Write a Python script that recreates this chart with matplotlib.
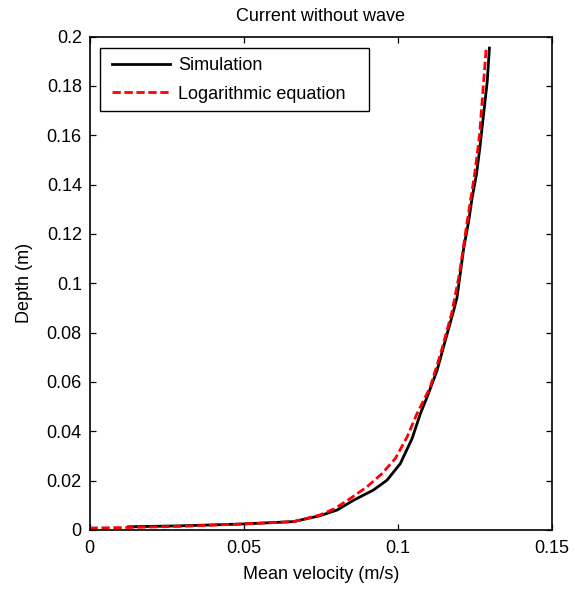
import matplotlib
matplotlib.use("Agg")
import matplotlib.pyplot as plt
from matplotlib.patches import Rectangle

# Data
sim_velocity = [0.0126, 0.030, 0.0489, 0.0662, 0.0748, 0.0803, 0.0857, 0.0921, 0.0965,
                0.1008, 0.1046, 0.1073, 0.1095, 0.1127, 0.1154, 0.1181, 0.1192, 0.1214,
                0.1230, 0.1241, 0.1255, 0.1266, 0.1284, 0.1290, 0.1297]
sim_depth = [0.0013, 0.0017, 0.0024, 0.0034, 0.0058, 0.0081, 0.0121, 0.0162, 0.0202,
             0.0269, 0.0370, 0.0471, 0.0539, 0.0646, 0.0768, 0.0889, 0.0943, 0.1145,
             0.1253, 0.1347, 0.1441, 0.1549, 0.1751, 0.1818, 0.1953]

log_velocity = [0.0, 0.0126, 0.030, 0.0489, 0.0662, 0.0748, 0.0797, 0.0846, 0.0900,
                0.0949, 0.0992, 0.1030, 0.1062, 0.1105, 0.1140, 0.1175, 0.1200, 0.1225,
                0.1250, 0.1265, 0.1287]
log_depth = [0.0008, 0.0010, 0.0015, 0.0024, 0.0034, 0.0061, 0.0088, 0.0128, 0.0175,
             0.0229, 0.0290, 0.0377, 0.0471, 0.0579, 0.0720, 0.0880, 0.1040, 0.1250,
             0.1450, 0.1600, 0.1960]

x_ticks = [0, 0.05, 0.1, 0.15]
x_tick_labels = ["0", "0.05", "0.1", "0.15"]
y_ticks = [0, 0.02, 0.04, 0.06, 0.08, 0.1, 0.12, 0.14, 0.16, 0.18, 0.2]
y_tick_labels = ["0", "0.02", "0.04", "0.06", "0.08", "0.1", "0.12", "0.14", "0.16", "0.18", "0.2"]

plt.rcParams['font.family'] = ['Liberation Sans', 'DejaVu Sans']
FS = 13

fig = plt.figure(figsize=(5.75, 5.94), dpi=100)
ax = fig.add_axes([89.5 / 575, 64 / 594, 462.5 / 575, 493.5 / 594])

ax.plot(sim_velocity, sim_depth, color='black', lw=2.0, label='Simulation')
ax.plot(log_velocity, log_depth, color='red', lw=2.0, dashes=(3.0, 1.3),
        label='Logarithmic equation')

ax.set_xlim(0, 0.15)
ax.set_ylim(0, 0.2)
ax.set_xticks(x_ticks)
ax.set_xticklabels(x_tick_labels)
ax.set_yticks(y_ticks)
ax.set_yticklabels(y_tick_labels)
ax.tick_params(direction='in', length=4, width=0.9, top=True, right=True,
               labelsize=FS)
ax.tick_params(axis='x', pad=7)
ax.tick_params(axis='y', pad=5.5)
for s in ax.spines.values():
    s.set_linewidth(1.2)

ax.set_xlabel('Mean velocity (m/s)', fontsize=FS, labelpad=7)
ax.set_ylabel('Depth (m)', fontsize=FS, labelpad=10)
ax.set_title('Current without wave', fontsize=FS, pad=11)

# Legend box (MATLAB style, white with thin black edge)
frame = Rectangle((10.5 / 462.5, (530 - 111) / 493.5), 269 / 462.5, 63 / 493.5,
                  transform=ax.transAxes, facecolor='white', edgecolor='black',
                  linewidth=1.0, zorder=4)
ax.add_patch(frame)
leg = ax.legend(loc='upper left', bbox_to_anchor=(22.5 / 462.5, (530 - 57) / 493.5),
                borderaxespad=0, borderpad=0, fontsize=FS, frameon=False,
                handlelength=3.2, handletextpad=0.45, labelspacing=0.65)
leg.set_zorder(5)

fig.savefig('out.png', dpi=100)
